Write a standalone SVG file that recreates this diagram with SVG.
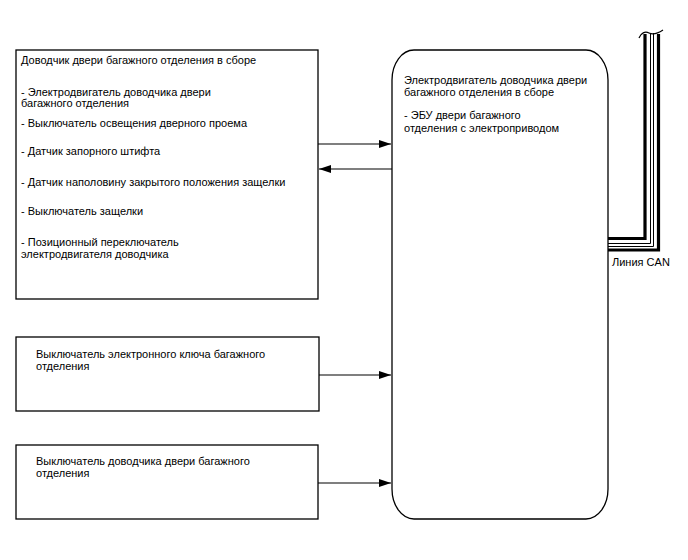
<svg xmlns="http://www.w3.org/2000/svg" width="688" height="560" viewBox="0 0 688 560">
<defs>
<style>
.box{fill:#fff;stroke:#000;stroke-width:1.3}
.t{font-family:"Liberation Sans",Arial,sans-serif;font-size:11px;fill:#000}
.c{fill:none;stroke:#000;stroke-width:1.2}
.can{fill:none;stroke:#000}
</style>
<marker id="ah" viewBox="0 0 12 8" refX="12" refY="4" markerWidth="12" markerHeight="8" markerUnits="userSpaceOnUse" orient="auto">
<path d="M0,0 L12,4 L0,8 Z" fill="#000"/>
</marker>
</defs>
<rect width="688" height="560" fill="#fff"/>
<g id="node-assembly">
<rect class="box" x="16" y="50" width="302" height="249"/>
<text class="t" x="21" y="64">Доводчик двери багажного отделения в сборе</text>
<text class="t" x="21" y="95.5">- Электродвигатель доводчика двери</text>
<text class="t" x="21" y="107">багажного отделения</text>
<text class="t" x="21" y="127">- Выключатель освещения дверного проема</text>
<text class="t" x="21" y="155">- Датчик запорного штифта</text>
<text class="t" x="21" y="186">- Датчик наполовину закрытого положения защелки</text>
<text class="t" x="21" y="215">- Выключатель защелки</text>
<text class="t" x="21" y="246">- Позиционный переключатель</text>
<text class="t" x="21" y="258">электродвигателя доводчика</text>
</g>
<g id="node-key-switch">
<rect class="box" x="16" y="337" width="303" height="74"/>
<text class="t" x="36" y="357.5">Выключатель электронного ключа багажного</text>
<text class="t" x="36" y="370">отделения</text>
</g>
<g id="node-closer-switch">
<rect class="box" x="16" y="445" width="302" height="74"/>
<text class="t" x="36" y="465">Выключатель доводчика двери багажного</text>
<text class="t" x="36" y="477">отделения</text>
</g>
<g id="node-motor-ecu">
<rect class="box" x="392" y="50" width="216" height="469" rx="22" ry="30"/>
<text class="t" x="404" y="83.5">Электродвигатель доводчика двери</text>
<text class="t" x="404" y="96">багажного отделения в сборе</text>
<text class="t" x="404" y="119">- ЭБУ двери багажного</text>
<text class="t" x="404" y="131.5">отделения с электроприводом</text>
</g>
<g id="connectors">
<line class="c" x1="318" y1="144" x2="391" y2="144" marker-end="url(#ah)"/>
<line class="c" x1="392" y1="169" x2="319" y2="169" marker-end="url(#ah)"/>
<line class="c" x1="319" y1="375" x2="391" y2="375" marker-end="url(#ah)"/>
<line class="c" x1="318" y1="483" x2="391" y2="483" marker-end="url(#ah)"/>
<path class="can" stroke-width="3.2" d="M608,238.5 H645 V34"/>
<path class="can" stroke-width="1" d="M608,243.5 H650.5 V33"/>
<path class="can" stroke-width="1" d="M608,246.5 H653.5 V33"/>
<path class="can" stroke-width="3.2" d="M608,250 H658.5 V34"/>
<path class="can" stroke-width="1.2" d="M639,38 C641,33 645,31 649,33 C653,35 657,34 663,30"/>
<text class="t" x="612" y="266">Линия CAN</text>
</g>
</svg>
